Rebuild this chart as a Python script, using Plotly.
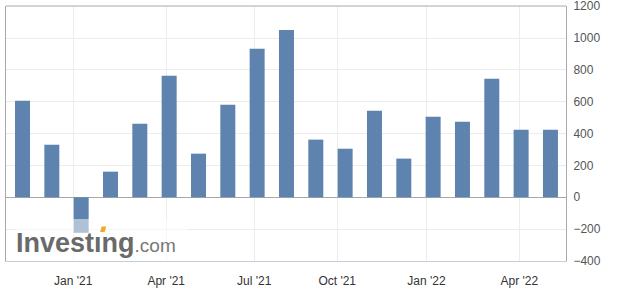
import plotly.graph_objects as go

# Data: monthly values, Nov 2020 .. May 2022
months = ["Nov 2020", "Dec 2020", "Jan 2021", "Feb 2021", "Mar 2021", "Apr 2021",
          "May 2021", "Jun 2021", "Jul 2021", "Aug 2021", "Sep 2021", "Oct 2021",
          "Nov 2021", "Dec 2021", "Jan 2022", "Feb 2022", "Mar 2022", "Apr 2022", "May 2022"]
values = [606, 330, -223, 161, 462, 763, 274, 581, 932, 1051, 362, 305,
          543, 243, 506, 474, 744, 424, 424]
tick_labels = ["Jan '21", "Apr '21", "Jul '21", "Oct '21", "Jan '22", "Apr '22"]
tick_pos = [1.73, 4.90, 7.90, 10.73, 13.77, 16.94]

idx = list(range(len(values)))

fig = go.Figure()
fig.add_trace(go.Bar(
    x=idx, y=values, width=0.511,
    marker=dict(color="#5d83ae", line=dict(width=0)),
    hovertext=months, hoverinfo="text+y",
))

fig.update_layout(
    width=617, height=293,
    margin=dict(l=6, r=51, t=6, b=32, autoexpand=False),
    paper_bgcolor="white", plot_bgcolor="white",
    showlegend=False,
    font=dict(family="Liberation Sans, Arial, sans-serif", size=12, color="#333"),
    xaxis=dict(
        range=[-0.5626, 18.53],
        tickmode="array", tickvals=tick_pos, ticktext=tick_labels,
        showgrid=True, gridcolor="#ececec", gridwidth=1,
        zeroline=False,
        showline=True, linecolor="#c3cedb", linewidth=1,
        ticks="", ticklabelstandoff=9, automargin=False,
        tickfont=dict(color="#333", size=12),
        fixedrange=True,
    ),
    yaxis=dict(
        side="right",
        range=[-400, 1201], dtick=200, tick0=0,
        showgrid=True, gridcolor="#ececec", gridwidth=1,
        zeroline=True, zerolinecolor="#a8a8a8", zerolinewidth=1,
        showline=True, linecolor="#a8a8a8", linewidth=1, mirror=True,
        ticks="", ticklabelstandoff=4, ticklabeloverflow="allow", automargin=False,
        tickfont=dict(color="#555", size=12),
        fixedrange=True,
    ),
    shapes=[
        # top border
        dict(type="line", xref="paper", yref="paper", x0=0, x1=1, y0=1, y1=1,
             line=dict(color="#a8a8a8", width=1)),
        # watermark backdrop
        dict(type="rect", xref="paper", yref="paper", x0=0.016, x1=0.325, y0=0.0, y1=0.165,
             fillcolor="rgba(255,255,255,0.5)", line=dict(width=0), layer="above"),
        # orange accent of logo (dot of the i)
        dict(type="path", xref="paper", yref="paper",
             path="M 0.168 0.114 L 0.176 0.114 L 0.179 0.135 L 0.171 0.135 Z",
             fillcolor="#f5a623", line=dict(width=0), layer="above"),
    ],
    annotations=[
        dict(x=0.0143, y=0.005, xref="paper", yref="paper", xanchor="left", yanchor="bottom",
             text="<b>Invest\u0131ng</b><span style='font-size:19px;color:#777'>.com</span>",
             showarrow=False,
             font=dict(family="Liberation Sans, Arial, sans-serif", size=27, color="#6a6a6a")),
    ],
)

fig.write_html("out.html")
